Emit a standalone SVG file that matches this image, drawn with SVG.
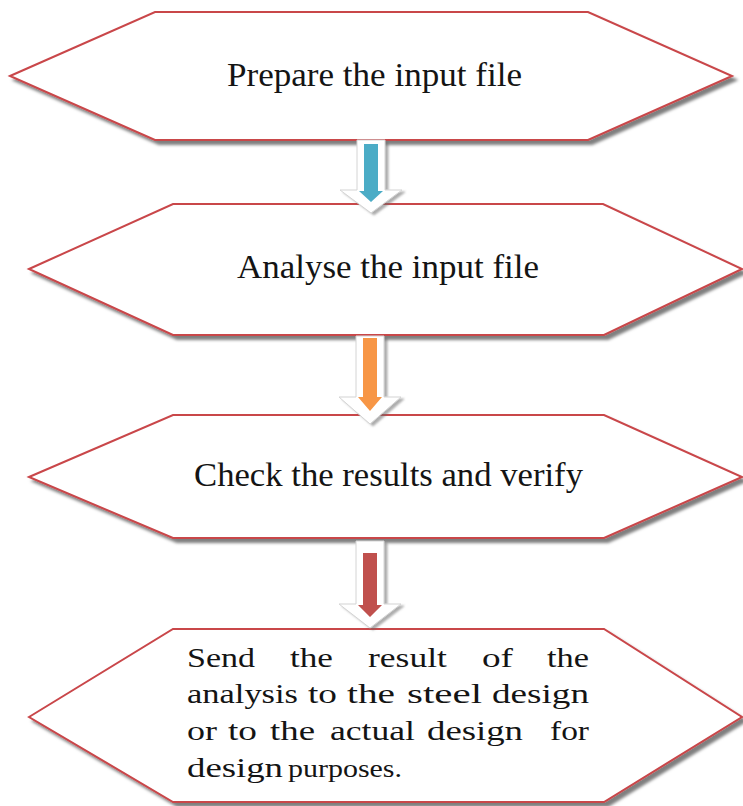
<svg xmlns="http://www.w3.org/2000/svg" width="743" height="806" viewBox="0 0 743 806">
<style>
.hex{fill:#ffffff;stroke:#c9464a;stroke-width:2;stroke-linejoin:miter;filter:url(#sh)}
.lbl{font-family:"Liberation Serif","Times New Roman",serif;font-size:33px;fill:#141414}
.body{font-family:"Liberation Serif","Times New Roman",serif;font-size:28px;fill:#141414}
.outer{fill:#ffffff;stroke:#d4d4d4;stroke-width:1;filter:url(#ash)}
</style>
<defs>
<filter id="sh" x="-5%" y="-5%" width="115%" height="120%">
<feDropShadow dx="4" dy="4" stdDeviation="1.8" flood-color="#000" flood-opacity="0.5"/>
</filter>
<filter id="ash" x="-20%" y="-20%" width="150%" height="150%">
<feDropShadow dx="3" dy="2" stdDeviation="1.2" flood-color="#6b6b6b" flood-opacity="0.55"/>
</filter>
</defs>
<g id="node1">
<polygon class="hex" points="10,76 155,12 588,12 732,76 588,140 155,140"/>
<text class="lbl" x="227" y="86" textLength="295" lengthAdjust="spacingAndGlyphs">Prepare the input file</text>
</g>
<g id="node2">
<polygon class="hex" points="29,269 173,204 603,204 742,269 604,335 173,335"/>
<text class="lbl" x="237" y="278" textLength="302" lengthAdjust="spacingAndGlyphs">Analyse the input file</text>
</g>
<g id="node3">
<polygon class="hex" points="29,477 173,415 604,415 742,477 604,538 173,538"/>
<text class="lbl" x="194" y="486" textLength="389" lengthAdjust="spacingAndGlyphs">Check the results and verify</text>
</g>
<g id="node4">
<polygon class="hex" points="29,717 173,629 604,629 742,717 604,802 173,802"/>
<text class="body" y="667"><tspan x="187" textLength="68" lengthAdjust="spacingAndGlyphs">Send</tspan> <tspan x="290" textLength="43" lengthAdjust="spacingAndGlyphs">the</tspan> <tspan x="368" textLength="79" lengthAdjust="spacingAndGlyphs">result</tspan> <tspan x="482" textLength="31" lengthAdjust="spacingAndGlyphs">of</tspan> <tspan x="547" textLength="42" lengthAdjust="spacingAndGlyphs">the</tspan></text>
<text class="body" y="703"><tspan x="187" textLength="111" lengthAdjust="spacingAndGlyphs">analysis</tspan> <tspan x="308" textLength="29" lengthAdjust="spacingAndGlyphs">to</tspan> <tspan x="347" textLength="48" lengthAdjust="spacingAndGlyphs">the</tspan> <tspan x="407" textLength="75" lengthAdjust="spacingAndGlyphs">steel</tspan> <tspan x="492" textLength="97" lengthAdjust="spacingAndGlyphs">design</tspan></text>
<text class="body" y="740"><tspan x="187" textLength="30" lengthAdjust="spacingAndGlyphs">or</tspan> <tspan x="228" textLength="29" lengthAdjust="spacingAndGlyphs">to</tspan> <tspan x="270" textLength="45" lengthAdjust="spacingAndGlyphs">the</tspan> <tspan x="330" textLength="85" lengthAdjust="spacingAndGlyphs">actual</tspan> <tspan x="427" textLength="96" lengthAdjust="spacingAndGlyphs">design</tspan> <tspan x="550" textLength="39" lengthAdjust="spacingAndGlyphs">for</tspan></text>
<text class="body" y="777"><tspan x="187" textLength="96" lengthAdjust="spacingAndGlyphs">design</tspan> <tspan x="288" textLength="114" lengthAdjust="spacingAndGlyphs" font-size="25">purposes.</tspan></text>
</g>
<g id="connectors">
<g id="arrow1">
<polygon class="outer" points="357,140 385,140 385,190 402,190 371,213 340,190 357,190"/>
<polygon fill="#4bacc6" points="364,144 378,144 378,191 383,191 371,202 359,191 364,191"/>
</g>
<g id="arrow2">
<polygon class="outer" points="356,336 384,336 384,397 401,397 370,424 339,397 356,397"/>
<polygon fill="#f79646" points="363,338 377,338 377,397 382,397 370,411 358,397 363,397"/>
</g>
<g id="arrow3">
<polygon class="outer" points="356,541 384,541 384,604 401,604 370,628 339,604 356,604"/>
<polygon fill="#c0504d" points="363,553 377,553 377,605 382,605 370,617 358,605 363,605"/>
</g>
</g>
</svg>
